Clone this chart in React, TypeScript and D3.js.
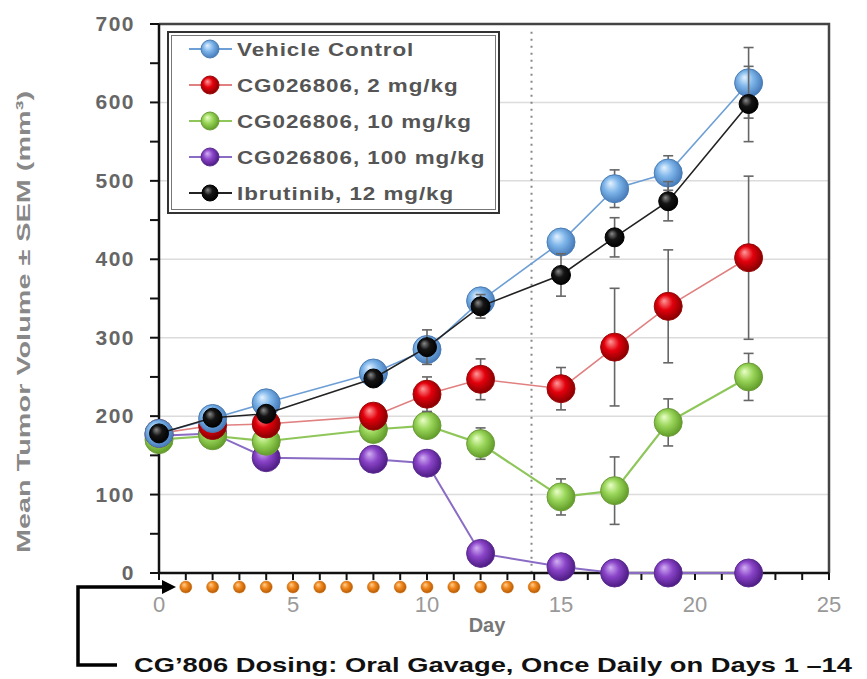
import React, { useEffect, useRef } from "react";
import * as d3 from "d3";

// Tumor volume by study day
const days = [0, 2, 4, 8, 10, 12, 15, 17, 19, 22];
const vehicle = [178, 197, 217, 255, 285, 347, 422, 490, 510, 625];
const vehicleErr = [6, 6, 8, 10, 12, 10, 12, 24, 22, 45];
const cg2 = [178, 188, 190, 200, 228, 247, 235, 288, 340, 402];
const cg2Err = [6, 8, 8, 10, 22, 26, 27, 75, 72, 104];
const cg10 = [170, 175, 168, 183, 188, 165, 97, 105, 192, 250];
const cg10Err = [5, 6, 8, 8, 8, 20, 23, 43, 30, 30];
const cg100 = [175, 178, 147, 145, 140, 25, 8, 0, 0, 0];
const cg100Err = [5, 5, 6, 6, 6, 4, 3, 1, 1, 1];
const ibru = [178, 198, 203, 248, 288, 340, 380, 428, 474, 598];
const ibruErr = [6, 6, 8, 10, 22, 15, 27, 25, 25, 48];

const doseDays = d3.range(1, 15);
const yTicks = [0, 100, 200, 300, 400, 500, 600, 700];
const xTicks = [0, 5, 10, 15, 20, 25];

type Series = {
	name: string;
	values: number[];
	err: number[];
	key: string;
	line: string;
	lineWidth: number;
	r: number;
};

// draw order (bottom to top)
const series: Series[] = [
	{ name: "CG026806, 100 mg/kg", values: cg100, err: cg100Err, key: "purple", line: "#8a6cc4", lineWidth: 2, r: 14 },
	{ name: "CG026806, 10 mg/kg", values: cg10, err: cg10Err, key: "green", line: "#8fc65a", lineWidth: 2.2, r: 14 },
	{ name: "CG026806, 2 mg/kg", values: cg2, err: cg2Err, key: "red", line: "#e08080", lineWidth: 1.6, r: 14 },
	{ name: "Vehicle Control", values: vehicle, err: vehicleErr, key: "blue", line: "#6d9fd6", lineWidth: 1.6, r: 14 },
	{ name: "Ibrutinib, 12 mg/kg", values: ibru, err: ibruErr, key: "black", line: "#222", lineWidth: 1.6, r: 9.5 },
];
const legendOrder = ["Vehicle Control", "CG026806, 2 mg/kg", "CG026806, 10 mg/kg", "CG026806, 100 mg/kg", "Ibrutinib, 12 mg/kg"];

const gradients: Record<string, [string, string, string, string]> = {
	// light, base, dark, stroke
	blue: ["#e4f2ff", "#7fb6ea", "#3f74b4", "#4a7cb5"],
	red: ["#ff9a9a", "#e3000c", "#7a0000", "#9a0a0a"],
	green: ["#eaffc8", "#9ad65a", "#5a9422", "#6c9c3a"],
	purple: ["#d2b0f4", "#8a44c8", "#45167a", "#5a2c90"],
	black: ["#8a8a8a", "#141414", "#000", "#000"],
	orange: ["#ffd090", "#f0861c", "#b05600", "#c26a10"],
};

export default function App() {
	const ref = useRef<SVGSVGElement>(null);

	useEffect(() => {
		const w = 867;
		const h = 679;
		const svg = d3.select(ref.current).html("");
		svg.attr("width", w).attr("height", h);

		const x = d3.scaleLinear().domain([0, 25]).range([159, 829]);
		const y = d3.scaleLinear().domain([0, 700]).range([573, 24]);

		const defs = svg.append("defs");
		Object.entries(gradients).forEach(([k, c]) => {
			const g = defs
				.append("radialGradient")
				.attr("id", "g-" + k)
				.attr("cx", "45%")
				.attr("cy", "45%")
				.attr("fx", "35%")
				.attr("fy", "30%")
				.attr("r", "60%");
			g.append("stop").attr("offset", "0%").attr("stop-color", c[0]);
			g.append("stop").attr("offset", "45%").attr("stop-color", c[1]);
			g.append("stop").attr("offset", "100%").attr("stop-color", c[2]);
		});

		// grid
		svg
			.append("g")
			.selectAll("line")
			.data([100, 200, 300, 400, 500, 600])
			.join("line")
			.attr("x1", x(0))
			.attr("x2", x(25))
			.attr("y1", (d) => y(d))
			.attr("y2", (d) => y(d))
			.attr("stroke", "#dcdcdc")
			.attr("stroke-width", 1.5);

		// frame top/right
		svg
			.append("path")
			.attr("d", `M${x(0)},${y(700)}H${x(25)}V${y(0)}`)
			.attr("fill", "none")
			.attr("stroke", "#444")
			.attr("stroke-width", 2.5);

		// end of dosing line
		svg
			.append("line")
			.attr("x1", x(13.9))
			.attr("x2", x(13.9))
			.attr("y1", y(690))
			.attr("y2", y(0))
			.attr("stroke", "#888")
			.attr("stroke-width", 2)
			.attr("stroke-dasharray", "2,5");

		// y axis
		const yAxisG = svg.append("g");
		yAxisG
			.selectAll("line")
			.data(d3.range(0, 701, 50))
			.join("line")
			.attr("x1", x(0) - 9)
			.attr("x2", x(0))
			.attr("y1", (d) => y(d))
			.attr("y2", (d) => y(d))
			.attr("stroke", "#111")
			.attr("stroke-width", 2);
		yAxisG
			.append("line")
			.attr("x1", x(0))
			.attr("x2", x(0))
			.attr("y1", y(700))
			.attr("y2", y(0))
			.attr("stroke", "#111")
			.attr("stroke-width", 2.5);
		yAxisG
			.selectAll("text")
			.data(yTicks)
			.join("text")
			.attr("x", 135)
			.attr("y", (d) => y(d) + 7)
			.attr("text-anchor", "end")
			.attr("font-family", "Arial, Liberation Sans, sans-serif")
			.attr("font-weight", "bold")
			.attr("font-size", 21)
			.attr("letter-spacing", 1.5)
			.attr("fill", "#666")
			.text((d) => d);

		// x axis
		const xAxisG = svg.append("g");
		xAxisG
			.selectAll("line")
			.data(d3.range(0, 26))
			.join("line")
			.attr("x1", (d) => x(d))
			.attr("x2", (d) => x(d))
			.attr("y1", y(0))
			.attr("y2", y(0) + 7)
			.attr("stroke", "#111")
			.attr("stroke-width", 2);
		xAxisG
			.append("line")
			.attr("x1", x(0))
			.attr("x2", x(25))
			.attr("y1", y(0))
			.attr("y2", y(0))
			.attr("stroke", "#111")
			.attr("stroke-width", 2.5);
		xAxisG
			.selectAll("text")
			.data(xTicks)
			.join("text")
			.attr("x", (d) => x(d))
			.attr("y", 612)
			.attr("text-anchor", "middle")
			.attr("font-family", "Arial, Liberation Sans, sans-serif")
			.attr("font-size", 22)
			.attr("fill", "#999")
			.text((d) => d);

		// axis titles
		svg
			.append("text")
			.attr("x", 487)
			.attr("y", 632)
			.attr("text-anchor", "middle")
			.attr("font-family", "Arial, Liberation Sans, sans-serif")
			.attr("font-weight", "bold")
			.attr("font-size", 20)
			.attr("fill", "#777")
			.text("Day");
		svg
			.append("text")
			.attr("transform", "rotate(-90)")
			.attr("x", -322)
			.attr("y", 30)
			.attr("text-anchor", "middle")
			.attr("font-family", "Arial, Liberation Sans, sans-serif")
			.attr("font-weight", "bold")
			.attr("font-size", 19)
			.attr("fill", "#888")
			.attr("textLength", 462)
			.attr("lengthAdjust", "spacingAndGlyphs")
			.text("Mean Tumor Volume ± SEM (mm³)");

		// series
		series.forEach((s) => {
			const pts = days.map((d, i) => ({ d, v: s.values[i], e: s.err[i] }));
			const g = svg.append("g");
			const eb = g.append("g").attr("stroke", "#666").attr("stroke-width", 1.6);
			pts.forEach((p) => {
				eb.append("line").attr("x1", x(p.d)).attr("x2", x(p.d)).attr("y1", y(p.v - p.e)).attr("y2", y(p.v + p.e));
				[p.v - p.e, p.v + p.e].forEach((v) => {
					eb.append("line").attr("x1", x(p.d) - 5).attr("x2", x(p.d) + 5).attr("y1", y(v)).attr("y2", y(v));
				});
			});
			g.append("path")
				.datum(pts)
				.attr("fill", "none")
				.attr("stroke", s.line)
				.attr("stroke-width", s.lineWidth)
				.attr(
					"d",
					d3
						.line<{ d: number; v: number }>()
						.x((p) => x(p.d))
						.y((p) => y(p.v))
				);
			g.selectAll("circle")
				.data(pts)
				.join("circle")
				.attr("cx", (p) => x(p.d))
				.attr("cy", (p) => y(p.v))
				.attr("r", s.r)
				.attr("fill", `url(#g-${s.key})`)
				.attr("stroke", gradients[s.key][3])
				.attr("stroke-width", 1);
		});

		// legend
		const lg = svg.append("g");
		lg.append("rect")
			.attr("x", 168)
			.attr("y", 32)
			.attr("width", 331)
			.attr("height", 181)
			.attr("fill", "#fff")
			.attr("stroke", "#333")
			.attr("stroke-width", 2);
		lg.append("rect")
			.attr("x", 171.5)
			.attr("y", 35.5)
			.attr("width", 324)
			.attr("height", 174)
			.attr("fill", "none")
			.attr("stroke", "#777")
			.attr("stroke-width", 1);
		legendOrder.forEach((name, i) => {
			const s = series.find((q) => q.name === name)!;
			const ly = 49 + i * 36;
			lg.append("line")
				.attr("x1", 189)
				.attr("x2", 232)
				.attr("y1", ly)
				.attr("y2", ly)
				.attr("stroke", s.line)
				.attr("stroke-width", 1.8);
			lg.append("circle")
				.attr("cx", 210)
				.attr("cy", ly)
				.attr("r", s.key === "black" ? 8 : 9)
				.attr("fill", `url(#g-${s.key})`)
				.attr("stroke", gradients[s.key][3])
				.attr("stroke-width", 1);
			lg.append("text")
				.attr("transform", `translate(237,${ly + 6.5}) scale(1.18,1)`)
				.attr("font-family", "Arial, Liberation Sans, sans-serif")
				.attr("font-weight", "bold")
				.attr("font-size", 19)
				.attr("letter-spacing", 0.8)
				.attr("fill", "#555")
				.text(name);
		});

		// dosing marks
		svg
			.append("g")
			.selectAll("circle")
			.data(doseDays)
			.join("circle")
			.attr("cx", (d) => x(d))
			.attr("cy", 587)
			.attr("r", 6)
			.attr("fill", "url(#g-orange)")
			.attr("stroke", gradients.orange[3])
			.attr("stroke-width", 0.5);

		// bracket with arrow
		svg
			.append("path")
			.attr("d", "M117,665H78V587H166")
			.attr("fill", "none")
			.attr("stroke", "#000")
			.attr("stroke-width", 3.5);
		svg.append("path").attr("d", "M176,587L162,580L162,594Z").attr("fill", "#000");

		svg
			.append("text")
			.attr("x", 134)
			.attr("y", 672)
			.attr("font-family", "Arial, Liberation Sans, sans-serif")
			.attr("font-weight", "bold")
			.attr("font-size", 21)
			.attr("fill", "#111")
			.attr("textLength", 718)
			.attr("lengthAdjust", "spacingAndGlyphs")
			.text("CG’806 Dosing: Oral Gavage, Once Daily on Days 1 –14");
	}, []);

	return <svg ref={ref} style={{ position: "absolute", left: 0, top: 0, background: "#fff" }} />;
}
